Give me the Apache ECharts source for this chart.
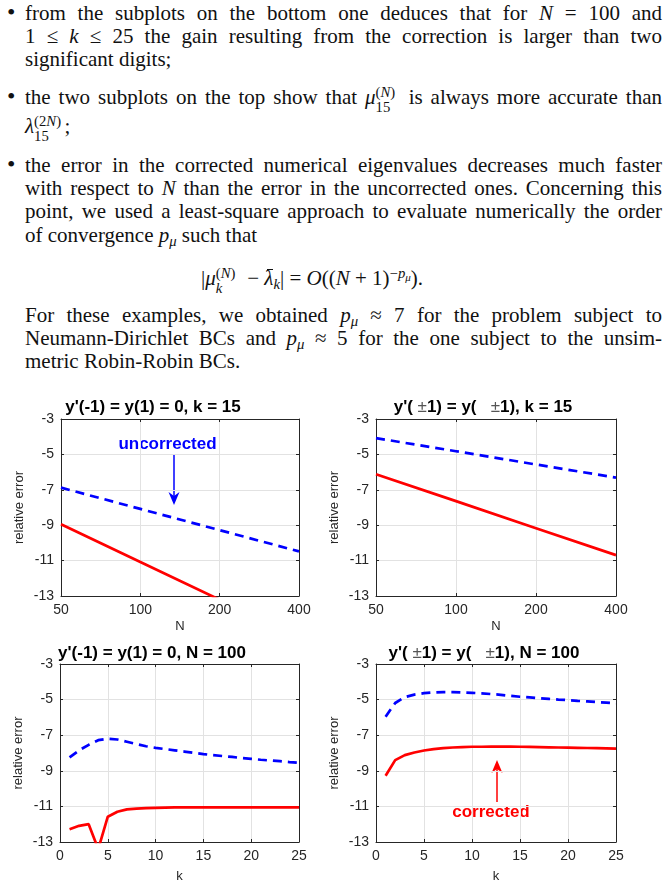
<!DOCTYPE html>
<html>
<head>
<meta charset="utf-8">
<script src="https://cdn.jsdelivr.net/npm/echarts@6/dist/echarts.min.js"></script>
<style>
html, body { margin: 0; padding: 0; background: #fff; }
body { width: 669px; height: 886px; position: relative; overflow: hidden; }
.txt { position: absolute; left: 0; top: 0; width: 669px; height: 380px;
  font-family: "Liberation Serif", "Times New Roman", serif; font-size: 21px; color: #111; }
.ln { position: absolute; left: 25px; width: 637px; height: 24px; line-height: 24px; white-space: nowrap; }
.j { text-align: justify; text-align-last: justify; white-space: normal; }
.f { left: 201px; width: auto; }
.bl { position: absolute; left: 7px; height: 24px; line-height: 24px; font-size: 24px; }
.sb { position: relative; top: .28em; font-size: .7em; line-height: 0; }
.sp { position: relative; top: -.45em; font-size: .7em; line-height: 0; }
.sp .sb { font-size: .75em; }
.ss { display: inline-block; position: relative; height: 0; vertical-align: baseline; }
.ss > span { position: absolute; left: 0; font-size: .7em; line-height: 1; white-space: nowrap; }
.ss .u { top: -19px; }
.ss .d { top: -4px; }
.bar { position: relative; }
.bar::before { content: ""; position: absolute; left: .12em; right: .02em; top: .12em; border-top: 1.2px solid #111; }
#chart { position: absolute; left: 0; top: 380px; width: 669px; height: 506px; }
</style>
</head>
<body>
<div class="txt">
  <div class="bl" style="top:0px">•</div>
  <div class="ln j" style="top:1px">from the subplots on the bottom one deduces that for <i>N</i> = 100 and</div>
  <div class="ln j" style="top:24px">1 ≤ <i>k</i> ≤ 25 the gain resulting from the correction is larger than two</div>
  <div class="ln" style="top:47px">significant digits;</div>

  <div class="bl" style="top:84px">•</div>
  <div class="ln j" style="top:85px">the two subplots on the top show that <i>μ</i><span class="ss" style="width:1.2em"><span class="u">(<i>N</i>)</span><span class="d">15</span></span> is always more accurate than</div>
  <div class="ln" style="top:114px"><i>λ</i><span class="ss" style="width:1.45em"><span class="u">(2<i>N</i>)</span><span class="d">15</span></span>;</div>

  <div class="bl" style="top:152px">•</div>
  <div class="ln j" style="top:153px">the error in the corrected numerical eigenvalues decreases much faster</div>
  <div class="ln j" style="top:176px">with respect to <i>N</i> than the error in the uncorrected ones. Concerning this</div>
  <div class="ln j" style="top:199px">point, we used a least-square approach to evaluate numerically the order</div>
  <div class="ln" style="top:223px">of convergence <i>p</i><span class="sb"><i>μ</i></span> such that</div>

  <div class="ln f" style="top:266px">|<i>μ</i><span class="ss" style="width:1.25em"><span class="u">(<i>N</i>)</span><span class="d"><i>k</i></span></span> − <span class="bar"><i>λ</i></span><span class="sb"><i>k</i></span>| = <i>O</i>((<i>N</i> + 1)<span class="sp">−<i>p</i><span class="sb"><i>μ</i></span></span>).</div>

  <div class="ln j" style="top:303px">For these examples, we obtained <i>p</i><span class="sb"><i>μ</i></span> ≈ 7 for the problem subject to</div>
  <div class="ln j" style="top:326px">Neumann-Dirichlet BCs and <i>p</i><span class="sb"><i>μ</i></span> ≈ 5 for the one subject to the unsim-</div>
  <div class="ln" style="top:349px">metric Robin-Robin BCs.</div>
</div>
<div id="chart"></div>
<script>
// N values of the top subplots (log-spaced)
const nTop = ['50', '100', '200', '400'];
// k values of the bottom subplots
const kBot = [1, 2, 3, 4, 5, 6, 7, 8, 9, 10, 11, 12, 13, 14, 15, 16, 17, 18, 19, 20, 21, 22, 23, 24, 25];

// top left: Neumann-Dirichlet, k = 15
const uncorrNDTop = [-6.88, -8.08, -9.28, -10.48];
const corrNDTop = [-8.95, -11.08, -13.21, -15.33];
// top right: Robin-Robin, k = 15
const uncorrRRTop = [-4.08, -4.82, -5.57, -6.31];
const corrRRTop = [-6.12, -7.64, -9.17, -10.69];

// bottom left: Neumann-Dirichlet, N = 100
const uncorrNDBot = [-8.25, -7.85, -7.54, -7.28, -7.2, -7.24, -7.37, -7.5, -7.62, -7.71, -7.78, -7.85, -7.92,
  -7.99, -8.06, -8.12, -8.17, -8.22, -8.28, -8.33, -8.38, -8.42, -8.46, -8.51, -8.55];
const corrNDBot = [-12.28, -12.09, -12.0, -13.4, -11.58, -11.3, -11.17, -11.12, -11.1, -11.08, -11.07, -11.06, -11.06,
  -11.06, -11.05, -11.05, -11.05, -11.05, -11.05, -11.05, -11.05, -11.05, -11.05, -11.05, -11.05];
// bottom right: Robin-Robin, N = 100
const uncorrRRBot = [-5.96, -5.19, -4.86, -4.72, -4.64, -4.6, -4.58, -4.58, -4.6, -4.62, -4.65, -4.69, -4.73,
  -4.79, -4.84, -4.88, -4.92, -4.96, -5.0, -5.03, -5.07, -5.1, -5.14, -5.17, -5.21];
const corrRRBot = [-9.28, -8.4, -8.12, -7.97, -7.86, -7.78, -7.73, -7.69, -7.67, -7.65, -7.65, -7.64, -7.64,
  -7.64, -7.65, -7.66, -7.67, -7.68, -7.69, -7.7, -7.71, -7.72, -7.73, -7.74, -7.75];

const titles = [
  "{b|y'(-1) = y(1) = 0, k = 15}",
  "{b|y'( }{n|±}{b|1) = y(   }{n|±}{b|1), k = 15}",
  "{b|y'(-1) = y(1) = 0, N = 100}",
  "{b|y'( }{n|±}{b|1) = y(   }{n|±}{b|1), N = 100}"
];

const FONT = '"Liberation Sans", Arial, Helvetica, sans-serif';
const AX = '#262626';
const GRIDC = '#e2e2e2';
const BLUE = '#0000ff';
const RED = '#ff0000';

const chart = echarts.init(document.getElementById('chart'));

const grids = [
  { left: 61, top: 39, width: 238, height: 177 },
  { left: 376, top: 39, width: 240, height: 177 },
  { left: 60, top: 284, width: 239, height: 178 },
  { left: 376, top: 284, width: 240, height: 178 }
];

const xAxes = [];
const yAxes = [];
grids.forEach(function (g, i) {
  const isTop = i < 2;
  const base = isTop
    ? { type: 'category', data: nTop, boundaryGap: false }
    : { type: 'value', min: 0, max: 25, interval: 5 };
  xAxes.push(Object.assign({}, base, {
    gridIndex: i,
    position: 'bottom',
    name: isTop ? 'N' : 'k',
    nameLocation: 'middle',
    nameGap: isTop ? 24 : 28,
    nameTextStyle: { color: AX, fontSize: 13, fontFamily: FONT },
    axisLine: { show: true, onZero: false, lineStyle: { color: AX, width: 1 } },
    axisTick: { show: true, inside: true, length: 3, lineStyle: { color: AX } },
    axisLabel: { color: AX, fontSize: 14, fontFamily: FONT, margin: 7, interval: 0 },
    splitLine: { show: true, lineStyle: { color: GRIDC, width: 1 } }
  }));
  xAxes.push(Object.assign({}, base, {
    gridIndex: i,
    position: 'top',
    axisLine: { show: true, onZero: false, lineStyle: { color: AX, width: 1 } },
    axisTick: { show: true, inside: true, length: 3, lineStyle: { color: AX } },
    axisLabel: { show: false },
    splitLine: { show: false }
  }));
  yAxes.push({
    type: 'value', gridIndex: i, position: 'left',
    min: -13, max: -3, interval: 2,
    name: 'relative error',
    nameLocation: 'middle',
    nameGap: 35,
    nameRotate: 90,
    nameTextStyle: { color: AX, fontSize: 13, fontFamily: FONT },
    axisLine: { show: true, onZero: false, lineStyle: { color: AX, width: 1 } },
    axisTick: { show: true, inside: true, length: 3, lineStyle: { color: AX } },
    axisLabel: { color: AX, fontSize: 14, fontFamily: FONT, margin: 7 },
    splitLine: { show: true, lineStyle: { color: GRIDC, width: 1 } }
  });
  yAxes.push({
    type: 'value', gridIndex: i, position: 'right',
    min: -13, max: -3, interval: 2,
    axisLine: { show: true, onZero: false, lineStyle: { color: AX, width: 1 } },
    axisTick: { show: true, inside: true, length: 3, lineStyle: { color: AX } },
    axisLabel: { show: false },
    splitLine: { show: false }
  });
});

function lineSeries(gi, data, color, dashed) {
  return {
    type: 'line',
    xAxisIndex: gi * 2,
    yAxisIndex: gi * 2,
    data: data,
    symbol: 'none',
    clip: true,
    silent: true,
    animation: false,
    lineStyle: { color: color, width: 2.7, type: dashed ? [9, 6] : 'solid' }
  };
}

function pairs(xs, ys) {
  return xs.map(function (x, i) { return [x, ys[i]]; });
}

const series = [
  lineSeries(0, uncorrNDTop, BLUE, true),
  lineSeries(0, corrNDTop, RED, false),
  lineSeries(1, uncorrRRTop, BLUE, true),
  lineSeries(1, corrRRTop, RED, false),
  lineSeries(2, pairs(kBot, uncorrNDBot), BLUE, true),
  lineSeries(2, pairs(kBot, corrNDBot), RED, false),
  lineSeries(3, pairs(kBot, uncorrRRBot), BLUE, true),
  lineSeries(3, pairs(kBot, corrRRBot), RED, false)
];

const titleCenters = [[153, 27], [483, 27], [152, 273], [484, 273]];
const richTitle = {
  b: { fontSize: 17, fontWeight: 'bold', fontFamily: FONT, fill: '#000' },
  n: { fontSize: 17, fontWeight: 'normal', fontFamily: FONT, fill: '#555' }
};

const graphic = titles.map(function (t, i) {
  return {
    type: 'text',
    x: titleCenters[i][0],
    y: titleCenters[i][1],
    style: { text: t, rich: richTitle, align: 'center', verticalAlign: 'middle' }
  };
});

// "uncorrected" annotation (top left)
graphic.push(
  { type: 'text', x: 167.5, y: 64,
    style: { text: 'uncorrected', fontSize: 17, fontWeight: 'bold', fontFamily: FONT, fill: BLUE,
      align: 'center', verticalAlign: 'middle' } },
  { type: 'line', shape: { x1: 174, y1: 74, x2: 174, y2: 120 }, style: { stroke: BLUE, lineWidth: 1.5 } },
  { type: 'polygon', shape: { points: [[174, 125], [168.5, 112], [174, 116], [179.5, 112]] }, style: { fill: BLUE } }
);
// "corrected" annotation (bottom right)
graphic.push(
  { type: 'text', x: 491, y: 432,
    style: { text: 'corrected', fontSize: 17, fontWeight: 'bold', fontFamily: FONT, fill: RED,
      align: 'center', verticalAlign: 'middle' } },
  { type: 'line', shape: { x1: 497, y1: 422, x2: 497, y2: 385 }, style: { stroke: RED, lineWidth: 1.5 } },
  { type: 'polygon', shape: { points: [[497, 380], [491.5, 393], [497, 389], [502.5, 393]] }, style: { fill: RED } }
);

chart.setOption({
  animation: false,
  backgroundColor: '#fff',
  grid: grids,
  xAxis: xAxes,
  yAxis: yAxes,
  series: series,
  graphic: graphic
});
</script>
</body>
</html>
